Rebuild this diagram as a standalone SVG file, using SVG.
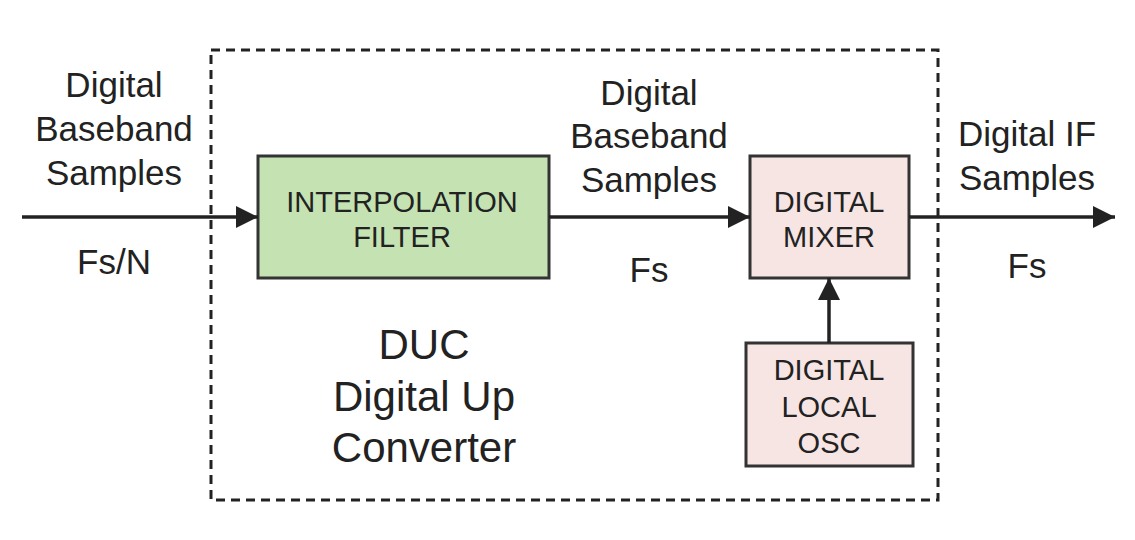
<svg xmlns="http://www.w3.org/2000/svg" width="1135" height="540" viewBox="0 0 1135 540">
<style>
text{font-family:"Liberation Sans",Arial,sans-serif;fill:#222;text-anchor:middle}
.lab{font-size:35px}
.box{font-size:29px}
.blk{stroke:#333;stroke-width:3}
</style>
<defs><marker id="b" viewBox="0 0 10 10" refX="10" refY="5" markerWidth="22" markerHeight="22" markerUnits="userSpaceOnUse" orient="auto"><path d="M0,0L10,5L0,10z" fill="#222"/></marker></defs>
<rect width="1135" height="540" fill="#fff"/>
<rect x="211" y="50" width="727" height="450" fill="none" stroke="#222" stroke-width="3" stroke-dasharray="9,6"/>
<g id="filter"><rect class="blk" x="258" y="156" width="291" height="122" fill="#c5e2b3"/><text class="box" x="402" y="212">INTERPOLATION</text><text class="box" x="402" y="247">FILTER</text></g>
<g id="mixer"><rect class="blk" x="750" y="156" width="159" height="122" fill="#f6e5e3"/><text class="box" x="829" y="212">DIGITAL</text><text class="box" x="829" y="247">MIXER</text></g>
<g id="osc"><rect class="blk" x="746" y="343" width="167" height="123" fill="#f6e5e3"/><text class="box" x="829" y="380">DIGITAL</text><text class="box" x="829" y="417">LOCAL</text><text class="box" x="829" y="453">OSC</text></g>
<g id="connectors">
<line x1="22" y1="217" x2="258" y2="217" stroke="#222" stroke-width="3.5" marker-end="url(#b)"/>
<line x1="549" y1="217" x2="750" y2="217" stroke="#222" stroke-width="3.5" marker-end="url(#b)"/>
<line x1="909" y1="217" x2="1115" y2="217" stroke="#222" stroke-width="3.5" marker-end="url(#b)"/>
<line x1="829" y1="343" x2="829" y2="278" stroke="#222" stroke-width="3.5" marker-end="url(#b)"/>
</g>
<g id="labels">
<text class="lab" x="114" y="97">Digital</text><text class="lab" x="114" y="141">Baseband</text><text class="lab" x="114" y="185">Samples</text><text class="lab" x="114" y="274">Fs/N</text>
<text class="lab" x="649" y="105">Digital</text><text class="lab" x="649" y="148">Baseband</text><text class="lab" x="649" y="192">Samples</text><text class="lab" x="649" y="282">Fs</text>
<text class="lab" x="1027" y="146">Digital IF</text><text class="lab" x="1027" y="190">Samples</text><text class="lab" x="1027" y="278">Fs</text>
<text x="424" y="359" font-size="42">DUC</text><text x="424" y="411" font-size="42">Digital Up</text><text x="424" y="462" font-size="42">Converter</text>
</g>
</svg>
